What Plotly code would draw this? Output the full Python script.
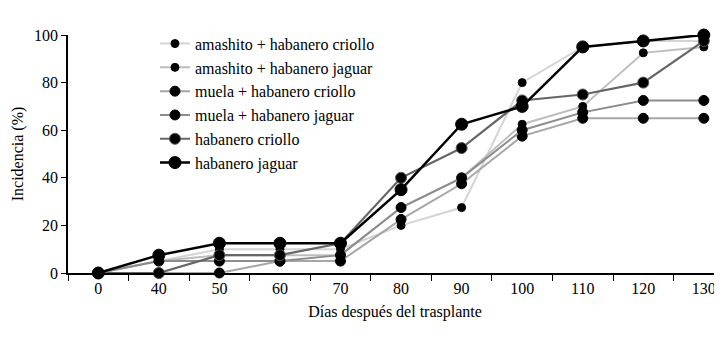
import plotly.graph_objects as go

dias = ["0", "40", "50", "60", "70", "80", "90", "100", "110", "120", "130"]

amashito_criollo = [0, 5, 10, 10, 10, 20, 27.5, 80, 95, 97.5, 97.5]
amashito_jaguar = [0, 5, 7.5, 7.5, 7.5, 27.5, 40, 62.5, 70, 92.5, 95]
muela_criollo = [0, 0, 0, 5, 5, 22.5, 37.5, 57.5, 65, 65, 65]
muela_jaguar = [0, 5, 5, 5, 7.5, 27.5, 40, 60, 67.5, 72.5, 72.5]
habanero_criollo = [0, 0, 7.5, 7.5, 12.5, 40, 52.5, 72.5, 75, 80, 97.5]
habanero_jaguar = [0, 7.5, 12.5, 12.5, 12.5, 35, 62.5, 70, 95, 97.5, 100]

series = [
    ("amashito + habanero criollo", amashito_criollo, "#d4d4d4", 2, 8, "black"),
    ("amashito + habanero jaguar", amashito_jaguar, "#bdbdbd", 2, 8, "black"),
    ("muela + habanero criollo", muela_criollo, "#a6a6a6", 2, 10, "black"),
    ("muela + habanero jaguar", muela_jaguar, "#8c8c8c", 2, 10, "black"),
    ("habanero criollo", habanero_criollo, "#666666", 2.2, 11, "#555555"),
    ("habanero jaguar", habanero_jaguar, "#000000", 2.5, 12, "black"),
]

fig = go.Figure()
for name, vals, color, lw, ms, mline in series:
    fig.add_trace(go.Scatter(
        x=dias, y=vals, name=name, mode="lines+markers",
        line=dict(color=color, width=lw),
        marker=dict(color="black", size=ms, line=dict(color=mline, width=1)),
        cliponaxis=False,
    ))

font = "Liberation Serif, Times New Roman, serif"
fig.update_layout(
    width=714, height=335,
    margin=dict(l=60, r=0, t=27, b=70),
    plot_bgcolor="white", paper_bgcolor="white",
    font=dict(family=font, size=16, color="black"),
    showlegend=True,
    legend=dict(x=0.133, y=1.035, xanchor="left", yanchor="top",
                bgcolor="rgba(0,0,0,0)", font=dict(size=16, family=font),
                tracegroupgap=0, itemwidth=30),
)
fig.update_xaxes(
    type="category", categoryorder="array", categoryarray=dias,
    range=[-0.5, 10.3],
    showline=True, linecolor="black", linewidth=1.5,
    ticks="outside", tickson="boundaries", ticklen=6, tickcolor="black",
    showgrid=False, zeroline=False,
    title=dict(text="Días después del trasplante", font=dict(size=16, family=font), standoff=10),
)
fig.update_yaxes(
    range=[0, 100], tickvals=[0, 20, 40, 60, 80, 100],
    showline=True, linecolor="black", linewidth=1.5,
    ticks="outside", ticklen=5, tickcolor="black",
    showgrid=False, zeroline=False,
    title=dict(text="Incidencia (%)", font=dict(size=16, family=font), standoff=6),
)

fig.write_html("out.html")
